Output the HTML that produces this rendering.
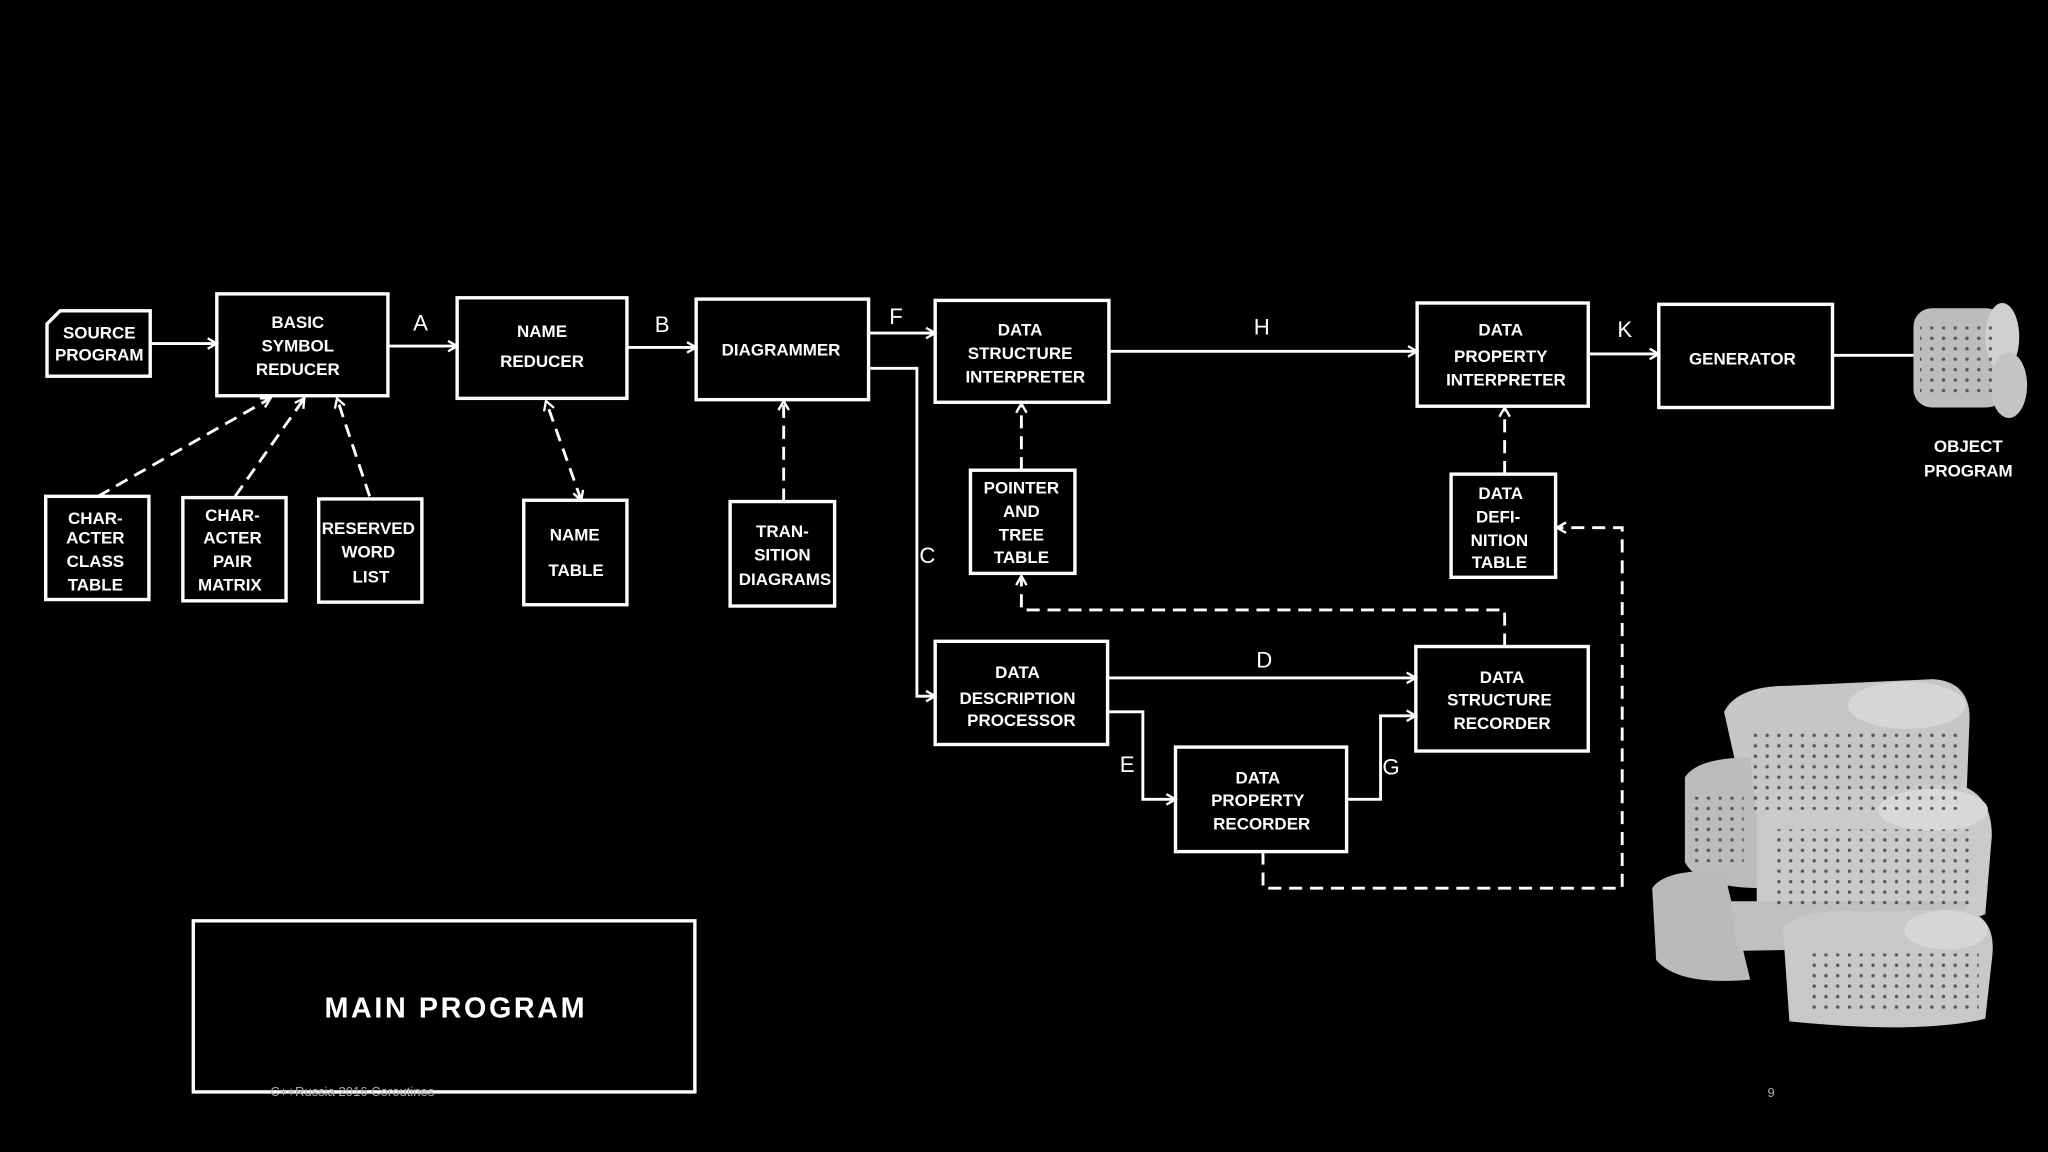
<!DOCTYPE html>
<html><head><meta charset="utf-8"><style>
html,body{margin:0;padding:0;background:#000;}
svg{display:block}
text{font-family:"Liberation Sans",sans-serif;font-weight:bold;fill:#fff;}
</style></head><body>
<svg width="2048" height="1152" viewBox="0 0 1568 882" xmlns="http://www.w3.org/2000/svg">
<defs>
<marker id="ar" markerWidth="10" markerHeight="10" refX="8" refY="5" orient="auto-start-reverse" markerUnits="userSpaceOnUse">
<path d="M1,1 L8,5 L1,9" fill="none" stroke="#fff" stroke-width="1.8"/></marker>
<pattern id="holes" width="9" height="8" patternUnits="userSpaceOnUse">
<circle cx="3" cy="3" r="1.3" fill="#555"/></pattern>
</defs>
<rect width="1568" height="882" fill="#000"/>
<g fill="none" stroke="#fff" stroke-width="2.6">
<path d="M46,238 L115,238 L115,288 L36,288 L36,248 Z"/>
<rect x="166" y="225" width="131" height="78"/>
<rect x="350" y="228" width="130" height="77"/>
<rect x="533" y="229" width="132" height="77"/>
<rect x="716" y="230" width="133" height="78"/>
<rect x="1085" y="232" width="131" height="79"/>
<rect x="1270" y="233" width="133" height="79"/>
<rect x="35" y="380" width="79" height="79"/>
<rect x="140" y="381" width="79" height="79"/>
<rect x="244" y="382" width="79" height="79"/>
<rect x="401" y="383" width="79" height="80"/>
<rect x="559" y="384" width="80" height="80"/>
<rect x="743" y="360" width="80" height="79"/>
<rect x="1111" y="363" width="80" height="79"/>
<rect x="716" y="491" width="132" height="79"/>
<rect x="1084" y="495" width="132" height="80"/>
<rect x="900" y="572" width="131" height="80"/>
<rect x="148" y="705" width="384" height="131"/>
</g>
<g fill="none" stroke="#fff" stroke-width="2.2">
<path d="M115,263 L166,263" marker-end="url(#ar)"/>
<path d="M297,265 L350,265" marker-end="url(#ar)"/>
<path d="M480,266 L533,266" marker-end="url(#ar)"/>
<path d="M665,255 L716,255" marker-end="url(#ar)"/>
<path d="M665,282 L702,282 L702,533 L716,533" marker-end="url(#ar)"/>
<path d="M849,269 L1085,269" marker-end="url(#ar)"/>
<path d="M1216,271 L1270,271" marker-end="url(#ar)"/>
<path d="M1403,272 L1466,272"/>
<path d="M848,519 L1084,519" marker-end="url(#ar)"/>
<path d="M848,545 L875,545 L875,612 L900,612" marker-end="url(#ar)"/>
<path d="M1031,612 L1057,612 L1057,548 L1084,548" marker-end="url(#ar)"/>
</g>
<g fill="none" stroke="#fff" stroke-width="2.2" stroke-dasharray="10,6">
<path d="M75,380 L207,305" marker-end="url(#ar)"/>
<path d="M180,380 L233,305" marker-end="url(#ar)"/>
<path d="M283,380 L258,305" marker-end="url(#ar)"/>
<path d="M445,383 L418,307" marker-end="url(#ar)" marker-start="url(#ar)"/>
<path d="M600,384 L600,307" marker-end="url(#ar)"/>
<path d="M782,360 L782,309" marker-end="url(#ar)"/>
<path d="M1152,363 L1152,312" marker-end="url(#ar)"/>
<path d="M1152,495 L1152,467 L782,467 L782,441" marker-end="url(#ar)"/>
<path d="M967,652 L967,680 L1242,680 L1242,404 L1192,404" marker-end="url(#ar)"/>
</g>
<g font-size="13" text-anchor="middle">
<text x="76" y="259">SOURCE</text><text x="76" y="276">PROGRAM</text>
<text x="228" y="251">BASIC</text><text x="228" y="269">SYMBOL</text><text x="228" y="287">REDUCER</text>
<text x="415" y="258">NAME</text><text x="415" y="281">REDUCER</text>
<text x="598" y="272">DIAGRAMMER</text>
<text x="781" y="257">DATA</text><text x="781" y="275">STRUCTURE</text><text x="785" y="293">INTERPRETER</text>
<text x="1149" y="257">DATA</text><text x="1149" y="277">PROPERTY</text><text x="1153" y="295">INTERPRETER</text>
<text x="1334" y="279">GENERATOR</text>
<text x="1507" y="346">OBJECT</text><text x="1507" y="365">PROGRAM</text>
<text x="73" y="401">CHAR-</text><text x="73" y="416">ACTER</text><text x="73" y="434">CLASS</text><text x="73" y="452">TABLE</text>
<text x="178" y="399">CHAR-</text><text x="178" y="416">ACTER</text><text x="178" y="434">PAIR</text><text x="176" y="452">MATRIX</text>
<text x="282" y="409">RESERVED</text><text x="282" y="427">WORD</text><text x="284" y="446">LIST</text>
<text x="440" y="414">NAME</text><text x="441" y="441">TABLE</text>
<text x="599" y="411">TRAN-</text><text x="599" y="429">SITION</text><text x="601" y="448">DIAGRAMS</text>
<text x="782" y="378">POINTER</text><text x="782" y="396">AND</text><text x="782" y="414">TREE</text><text x="782" y="431">TABLE</text>
<text x="1149" y="382">DATA</text><text x="1147" y="400">DEFI-</text><text x="1148" y="418">NITION</text><text x="1148" y="435">TABLE</text>
<text x="779" y="519">DATA</text><text x="779" y="539">DESCRIPTION</text><text x="782" y="556">PROCESSOR</text>
<text x="1150" y="523">DATA</text><text x="1148" y="540">STRUCTURE</text><text x="1150" y="558">RECORDER</text>
<text x="963" y="600">DATA</text><text x="963" y="617">PROPERTY</text><text x="966" y="635">RECORDER</text>
</g>
<g font-size="17" text-anchor="middle">
<text x="322" y="253" style="font-weight:normal">A</text>
<text x="507" y="254" style="font-weight:normal">B</text>
<text x="686" y="248" style="font-weight:normal">F</text>
<text x="710" y="431" style="font-weight:normal">C</text>
<text x="966" y="256" style="font-weight:normal">H</text>
<text x="1244" y="258" style="font-weight:normal">K</text>
<text x="968" y="511" style="font-weight:normal">D</text>
<text x="863" y="591" style="font-weight:normal">E</text>
<text x="1065" y="593" style="font-weight:normal">G</text>
</g>
<text x="349" y="779" font-size="22" text-anchor="middle" letter-spacing="2">MAIN PROGRAM</text>
<text x="207" y="839" font-size="10" style="font-weight:normal;fill:#aaa">C++Russia 2016 Coroutines</text>
<text x="1356" y="840" font-size="10" text-anchor="middle" style="font-weight:normal;fill:#aaa">9</text>
<g>
<rect x="1465" y="236" width="70" height="76" rx="14" fill="#bdbdbd"/>
<ellipse cx="1533" cy="258" rx="13" ry="26" fill="#d0d0d0"/>
<ellipse cx="1538" cy="295" rx="14" ry="25" fill="#c4c4c4"/>
<rect x="1470" y="250" width="55" height="55" fill="url(#holes)"/>
</g>
<g>
<path d="M1320,545 Q1330,525 1370,525 L1480,520 Q1508,522 1508,550 L1505,625 Q1480,640 1340,635 Z" fill="#c6c6c6"/>
<ellipse cx="1460" cy="540" rx="45" ry="18" fill="#d6d6d6"/>
<path d="M1290,595 Q1300,580 1340,580 L1350,680 Q1300,680 1290,660 Z" fill="#bcbcbc"/>
<path d="M1345,615 Q1360,600 1400,605 L1495,600 Q1525,605 1525,640 L1520,700 Q1480,715 1345,705 Z" fill="#cacaca"/>
<ellipse cx="1480" cy="620" rx="42" ry="16" fill="#d8d8d8"/>
<path d="M1265,680 Q1275,665 1320,667 L1340,750 Q1285,755 1268,735 Z" fill="#bababa"/>
<path d="M1325,690 L1505,690 L1505,725 L1330,728 Z" fill="#c0c0c0"/>
<path d="M1365,710 Q1380,695 1430,698 L1500,696 Q1530,700 1525,735 L1520,780 Q1470,792 1370,782 Z" fill="#c8c8c8"/>
<ellipse cx="1490" cy="712" rx="32" ry="15" fill="#d6d6d6"/>
<rect x="1340" y="560" width="160" height="60" fill="url(#holes)"/>
<rect x="1360" y="635" width="150" height="60" fill="url(#holes)"/>
<rect x="1385" y="730" width="130" height="45" fill="url(#holes)"/>
<rect x="1295" y="610" width="40" height="50" fill="url(#holes)"/>
</g>
</svg>
</body></html>
